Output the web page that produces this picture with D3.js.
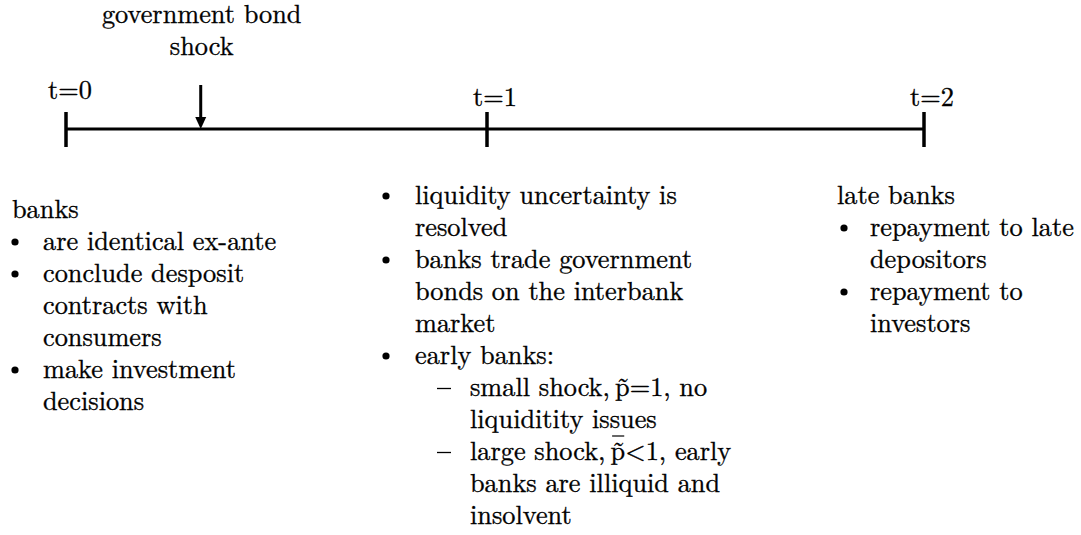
<!DOCTYPE html>
<html><head><meta charset="utf-8">
<script src="https://cdn.jsdelivr.net/npm/d3@7"></script>
<style>html,body{margin:0;padding:0;background:#fff;}</style>
</head>
<body><svg id="c" width="1081" height="535"></svg>
<script>
// ---- data ----
const timePoints = [0, 1, 2];
const timeLabels = ["t=0", "t=1", "t=2"];
const shockTime = 0.32;
const shockLabel = ["government bond", "shock"];
// lines per column: [indentLevel, bullet?, text, barOverP?]  (level 0 = header, 1 = bullet, 2 = dash)
const col0Lines = [
  [0, false, "banks"],
  [1, true, "are identical ex-ante"],
  [1, true, "conclude desposit"],
  [1, false, "contracts with"],
  [1, false, "consumers"],
  [1, true, "make investment"],
  [1, false, "decisions"]
];
const col1Lines = [
  [1, true, "liquidity uncertainty is"],
  [1, false, "resolved"],
  [1, true, "banks trade government"],
  [1, false, "bonds on the interbank"],
  [1, false, "market"],
  [1, true, "early banks:"],
  [2, true, "small shock,\u2009p\u0303=1, no"],
  [2, false, "liquiditity issues"],
  [2, true, "large shock,\u2009p\u0303<1, early", true],
  [2, false, "banks are illiquid and"],
  [2, false, "insolvent"]
];
const col2Lines = [
  [0, false, "late banks"],
  [1, true, "repayment to late"],
  [1, false, "depositors"],
  [1, true, "repayment to"],
  [1, false, "investors"]
];

// ---- drawing ----
const FONT = '"Latin Modern Roman","CMU Serif","Liberation Serif",serif';
const FS = "26.3px";
function styleText(sel) {
  return sel.style("font-family", FONT).style("font-size", FS).attr("fill", "#000")
    .attr("stroke", "#000").attr("stroke-width", 0.35);
}
const svg = d3.select("#c");
const x = d3.scaleLinear().domain(timePoints).range([66, 487, 924]);
const lineY = 129;

svg.append("line").attr("x1", x(0)).attr("x2", x(2)).attr("y1", lineY).attr("y2", lineY)
  .attr("stroke", "#000").attr("stroke-width", 3);

svg.selectAll(".tick").data(timePoints).join("line")
  .attr("x1", d => x(d)).attr("x2", d => x(d))
  .attr("y1", 112).attr("y2", 147)
  .attr("stroke", "#000").attr("stroke-width", 3.5);

styleText(svg.selectAll(".tlab").data(timePoints).join("text")
  .attr("x", d => x(d) + (d === 0 ? 4 : 8))
  .attr("y", d => d === 0 ? 99 : 106)
  .attr("text-anchor", "middle")
  .text((d, i) => timeLabels[i]));

// shock arrow
const sx = x(shockTime);
svg.append("line").attr("x1", sx).attr("x2", sx).attr("y1", 85).attr("y2", 119)
  .attr("stroke", "#000").attr("stroke-width", 3);
svg.append("path")
  .attr("d", `M${sx - 5.5},117 L${sx + 5.5},117 L${sx},129 Z`)
  .attr("fill", "#000");
styleText(svg.selectAll(".slab").data(shockLabel).join("text")
  .attr("x", sx + 1).attr("y", (d, i) => 23 + i * 32)
  .attr("text-anchor", "middle").text(d => d));

// columns
function drawColumn(lines, cfg) {
  const g = svg.append("g");
  lines.forEach((ln, i) => {
    const [lvl, bullet, txt, bar] = ln;
    const yb = cfg.y0 + i * 32;
    let tx = cfg.x0;
    if (lvl === 1) tx = cfg.x1;
    if (lvl === 2) tx = cfg.x2;
    const t = styleText(g.append("text").attr("x", tx).attr("y", yb).text(txt));
    if (bar) {
      const idx = txt.indexOf("p\u0303");
      const node = t.node();
      const s = node.getStartPositionOfChar(idx).x;
      const e = node.getEndPositionOfChar(idx).x;
      g.append("line").attr("x1", s + 1.5).attr("x2", e - 1)
        .attr("y1", yb - 24).attr("y2", yb - 24)
        .attr("stroke", "#000").attr("stroke-width", 1.2);
    }
    if (bullet && lvl === 1) {
      g.append("circle").attr("cx", cfg.bx).attr("cy", yb - 8).attr("r", 3.6).attr("fill", "#000");
    }
    if (bullet && lvl === 2) {
      g.append("line").attr("x1", cfg.dx).attr("x2", cfg.dx + 14)
        .attr("y1", yb - 7.5).attr("y2", yb - 7.5).attr("stroke", "#000").attr("stroke-width", 1.3);
    }
  });
}
drawColumn(col0Lines, {x0: 12, x1: 43, x2: 70, bx: 15, dx: 40, y0: 218});
drawColumn(col1Lines, {x0: 385, x1: 415, x2: 470, bx: 386, dx: 437, y0: 204});
drawColumn(col2Lines, {x0: 837, x1: 870, x2: 900, bx: 844, dx: 860, y0: 204});
</script></body></html>
